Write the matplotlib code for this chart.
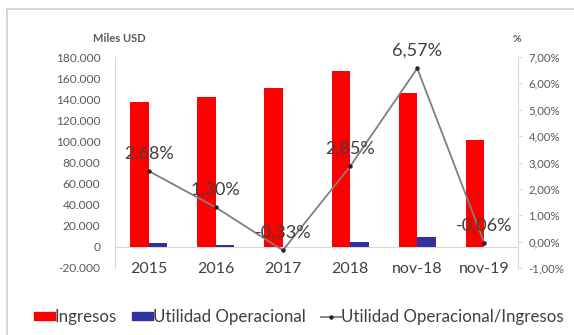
import matplotlib
matplotlib.use("Agg")
import matplotlib.pyplot as plt
from matplotlib.patches import Patch
from matplotlib.lines import Line2D
import numpy as np

plt.rcParams['font.family'] = ['Lato', 'DejaVu Sans']

categories = ['2015', '2016', '2017', '2018', 'nov-18', 'nov-19']
ingresos = [137000, 142000, 151000, 167000, 146000, 101000]
utilidad = [3672, 1846, -498, 4760, 9592, -61]
margen = [2.68, 1.30, -0.33, 2.85, 6.57, -0.06]
margen_labels = ['2,68%', '1,30%', '-0,33%', '2,85%', '6,57%', '-0,06%']

left_ticks = [-20000, 0, 20000, 40000, 60000, 80000, 100000, 120000, 140000, 160000, 180000]
right_ticks = [-1, 0, 1, 2, 3, 4, 5, 6, 7]

W, H = 574, 335
fig = plt.figure(figsize=(W / 100, H / 100), dpi=100)
ax = fig.add_axes([115 / W, 1 - 268 / H, (518 - 115) / W, (268 - 57) / H])
ax2 = ax.twinx()

x = np.arange(len(categories))
w = 0.275
ax.bar(x - w / 2, ingresos, width=w, color='#FF0000', zorder=2)
ax.bar(x + w / 2, utilidad, width=w, color='#3030A0', zorder=2)
ax.axhline(0, color='#d9d9d9', lw=0.8, zorder=1)

ax.set_xlim(-0.5, len(categories) - 0.5)
ax.set_ylim(-20000, 180000)
ax.set_yticks(left_ticks)
ax.set_yticklabels([f'{v:,.0f}'.replace(',', '.') for v in left_ticks])
ax.set_xticks(x)
ax.set_xticklabels(categories)

ax2.plot(x, margen, color='#7f7f7f', lw=1.3, marker='o', markersize=2.2,
         markerfacecolor='#262626', markeredgecolor='#262626', zorder=3)
ax2.set_ylim(-1, 7)
ax2.set_yticks(right_ticks)
ax2.set_yticklabels([f'{v:.2f}%'.replace('.', ',') for v in right_ticks])
for xi, yi, lab in zip(x, margen, margen_labels):
    ax2.annotate(lab, (xi, yi), xytext=(0, 12.5), textcoords='offset points',
                 ha='center', va='center', fontsize=13, color='#404040')

for a in (ax, ax2):
    for s in ('top', 'bottom'):
        a.spines[s].set_visible(False)
    a.spines['left'].set_color('#d9d9d9')
    a.spines['right'].set_color('#d9d9d9')
ax.spines['right'].set_visible(False)
ax2.spines['left'].set_visible(False)

ax.tick_params(axis='y', length=0, labelsize=8.6, labelcolor='#595959', pad=10.5)
ax.tick_params(axis='x', length=0, labelsize=11.5, labelcolor='#404040', pad=-4)
ax2.tick_params(axis='y', length=3, color='#d9d9d9', labelsize=8.2,
                labelcolor='#595959', pad=4.5)

fig.text(119 / W, 1 - 39 / H, 'Miles USD', ha='center', va='center',
         fontsize=8, fontweight='bold', color='#595959')
fig.text(517 / W, 1 - 40 / H, '%', ha='center', va='center',
         fontsize=7.5, fontweight='bold', color='#595959')

handles = [Patch(color='#FF0000', label='Ingresos'),
           Patch(color='#3030A0', label='Utilidad Operacional'),
           Line2D([], [], color='#7f7f7f', lw=1.3, marker='o', markersize=2.2,
                  markerfacecolor='#262626', markeredgecolor='#262626',
                  label='Utilidad Operacional/Ingresos')]
fig.legend(handles=handles, loc='center', bbox_to_anchor=(299 / W, 1 - 317 / H),
           ncol=3, frameon=False, fontsize=12.2, handlelength=1.2, handleheight=0.4,
           handletextpad=0.0, columnspacing=0.9, labelcolor='#404040',
           borderpad=0, borderaxespad=0)

fig.add_artist(Line2D([7 / W, 7 / W], [0, 1 - 9 / H], color='#d0d0d0', lw=1.2,
                      transform=fig.transFigure))
fig.add_artist(Line2D([7 / W, 1], [1 - 9 / H, 1 - 9 / H], color='#d0d0d0', lw=1.2,
                      transform=fig.transFigure))

fig.savefig('out.png', dpi=100)
